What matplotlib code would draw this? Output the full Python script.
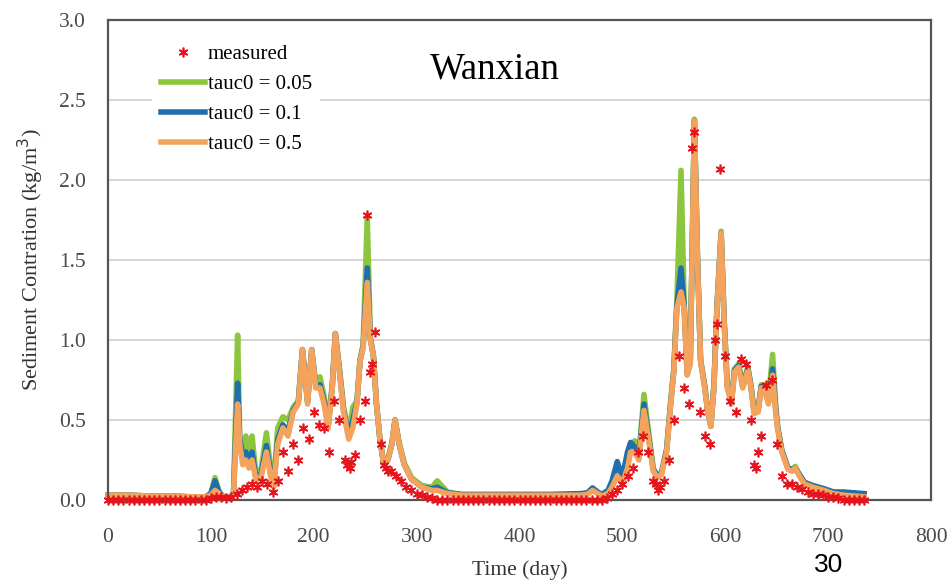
import numpy as np
import matplotlib
matplotlib.use("Agg")
import matplotlib.pyplot as plt
from matplotlib.ticker import FormatStrFormatter

plt.rcParams['font.family'] = ['Liberation Serif', 'DejaVu Serif']

# model output vertices (day, sediment concentration)
model_days = [0, 20, 40, 60, 80, 95, 100, 104, 108, 112,
              118, 122, 126, 128, 131, 134, 137, 140, 144, 149,
              154, 158, 161, 165, 170, 175, 180, 185, 189, 194,
              198, 202, 206, 210, 214, 218, 221, 225, 229, 234,
              238, 242, 245, 248, 252, 255, 258, 261, 264, 268,
              272, 276, 279, 283, 288, 295, 305, 315, 320, 330,
              345, 370, 400, 430, 460, 466, 471, 476, 480, 486,
              490, 495, 500, 505, 508, 512, 516, 521, 525, 530,
              534, 538, 543, 547, 550, 553, 557, 560, 563, 566,
              570, 573, 576, 580, 583, 586, 589, 592, 596, 599,
              602, 606, 609, 613, 617, 622, 625, 628, 632, 635,
              638, 642, 646, 649, 651, 655, 661, 665, 668, 672,
              677, 685, 696, 705, 715, 725, 735]

tauc_005 = [0.03, 0.03, 0.025, 0.025, 0.02, 0.02, 0.04, 0.14, 0.05, 0.02,
            0.01, 0.04, 1.03, 0.40, 0.28, 0.40, 0.30, 0.40, 0.15, 0.20,
            0.42, 0.20, 0.10, 0.45, 0.52, 0.50, 0.58, 0.62, 0.94, 0.62,
            0.94, 0.72, 0.77, 0.65, 0.48, 0.72, 1.04, 0.82, 0.58, 0.42,
            0.58, 0.62, 0.88, 0.97, 1.76, 1.02, 0.90, 0.60, 0.40, 0.23,
            0.26, 0.36, 0.50, 0.36, 0.23, 0.14, 0.09, 0.08, 0.12, 0.05,
            0.03, 0.03, 0.03, 0.03, 0.035, 0.04, 0.075, 0.045, 0.03, 0.05,
            0.10, 0.20, 0.12, 0.28, 0.33, 0.37, 0.28, 0.66, 0.45, 0.20,
            0.15, 0.17, 0.32, 0.62, 0.82, 1.25, 2.06, 1.25, 0.80, 0.87,
            2.38, 1.52, 0.88, 0.72, 0.56, 0.47, 0.72, 1.22, 1.68, 1.12,
            0.72, 0.62, 0.82, 0.85, 0.72, 0.83, 0.72, 0.56, 0.57, 0.72,
            0.72, 0.63, 0.91, 0.60, 0.46, 0.31, 0.20, 0.19, 0.21, 0.16,
            0.11, 0.09, 0.07, 0.05, 0.04, 0.03, 0.03]

tauc_01 = [0.03, 0.03, 0.025, 0.025, 0.02, 0.02, 0.04, 0.12, 0.05, 0.02,
           0.01, 0.04, 0.73, 0.38, 0.28, 0.30, 0.24, 0.30, 0.13, 0.17,
           0.34, 0.17, 0.09, 0.38, 0.47, 0.43, 0.56, 0.61, 0.94, 0.61,
           0.94, 0.71, 0.72, 0.62, 0.46, 0.71, 1.04, 0.81, 0.56, 0.40,
           0.50, 0.61, 0.87, 0.96, 1.45, 1.01, 0.90, 0.60, 0.40, 0.22,
           0.25, 0.35, 0.50, 0.35, 0.22, 0.13, 0.08, 0.07, 0.08, 0.045,
           0.035, 0.035, 0.035, 0.035, 0.04, 0.045, 0.075, 0.05, 0.035, 0.06,
           0.12, 0.24, 0.14, 0.30, 0.36, 0.33, 0.27, 0.60, 0.42, 0.19,
           0.15, 0.17, 0.31, 0.61, 0.81, 1.22, 1.45, 1.22, 0.79, 0.86,
           2.37, 1.51, 0.87, 0.71, 0.55, 0.46, 0.71, 1.21, 1.67, 1.11,
           0.71, 0.61, 0.81, 0.84, 0.71, 0.82, 0.71, 0.55, 0.56, 0.71,
           0.70, 0.61, 0.82, 0.57, 0.45, 0.31, 0.20, 0.19, 0.20, 0.16,
           0.11, 0.09, 0.07, 0.05, 0.05, 0.045, 0.04]

tauc_05 = [0.03, 0.03, 0.025, 0.025, 0.02, 0.02, 0.03, 0.06, 0.04, 0.02,
           0.01, 0.03, 0.60, 0.35, 0.22, 0.25, 0.20, 0.25, 0.12, 0.15,
           0.30, 0.15, 0.08, 0.35, 0.45, 0.40, 0.55, 0.60, 0.94, 0.60,
           0.94, 0.70, 0.70, 0.60, 0.45, 0.70, 1.04, 0.80, 0.55, 0.38,
           0.45, 0.60, 0.87, 0.95, 1.36, 1.00, 0.90, 0.60, 0.40, 0.22,
           0.25, 0.35, 0.50, 0.35, 0.22, 0.13, 0.08, 0.06, 0.06, 0.04,
           0.03, 0.03, 0.03, 0.03, 0.03, 0.035, 0.06, 0.04, 0.025, 0.04,
           0.08, 0.15, 0.10, 0.20, 0.30, 0.30, 0.25, 0.56, 0.40, 0.18,
           0.14, 0.16, 0.30, 0.60, 0.80, 1.20, 1.30, 1.20, 0.78, 0.85,
           2.37, 1.50, 0.87, 0.70, 0.55, 0.46, 0.70, 1.20, 1.67, 1.10,
           0.70, 0.60, 0.80, 0.83, 0.70, 0.81, 0.70, 0.54, 0.55, 0.70,
           0.69, 0.60, 0.78, 0.55, 0.44, 0.30, 0.19, 0.18, 0.20, 0.15,
           0.10, 0.08, 0.06, 0.04, 0.03, 0.025, 0.02]

# measured concentration, every 5 days from day 0 to 735
meas_days = list(range(0, 740, 5))
meas_vals = [0, 0, 0, 0, 0, 0, 0, 0, 0, 0,
             0, 0, 0, 0, 0, 0, 0, 0, 0, 0,
             0.01, 0.02, 0.02, 0.01, 0.02, 0.04, 0.06, 0.08, 0.10, 0.08,
             0.12, 0.10, 0.05, 0.12, 0.30, 0.18, 0.35, 0.25, 0.45, 0.38,
             0.55, 0.47, 0.45, 0.30, 0.62, 0.50, 0.25, 0.20, 0.28, 0.50,
             0.62, 0.80, 1.05, 0.35, 0.20, 0.18, 0.15, 0.12, 0.08, 0.06,
             0.04, 0.03, 0.02, 0.01, 0, 0, 0, 0, 0, 0,
             0, 0, 0, 0, 0, 0, 0, 0, 0, 0,
             0, 0, 0, 0, 0, 0, 0, 0, 0, 0,
             0, 0, 0, 0, 0, 0, 0, 0.01, 0.04, 0.06,
             0.10, 0.15, 0.20, 0.30, 0.40, 0.30, 0.12, 0.06, 0.12, 0.25,
             0.50, 0.90, 0.70, 0.60, 2.30, 0.55, 0.40, 0.35, 1.00, 2.07,
             0.90, 0.62, 0.55, 0.88, 0.85, 0.50, 0.20, 0.40, 0.72, 0.75,
             0.35, 0.15, 0.10, 0.10, 0.08, 0.07, 0.05, 0.04, 0.04, 0.03,
             0.02, 0.02, 0.01, 0, 0, 0, 0, 0]
# isolated readings between the 5-day samples
extra_days = [232, 236, 252, 257, 268, 272, 533, 537, 568, 592, 628, 632]
extra_vals = [0.22, 0.24, 1.78, 0.85, 0.22, 0.18, 0.10, 0.08, 2.20, 1.10, 0.22, 0.30]

fig = plt.figure(figsize=(9.49, 5.83), dpi=100)
ax = fig.add_axes([108 / 949, 1 - 500 / 583, 823 / 949, 480 / 583])

ax.plot(model_days, tauc_005, color='#8cc63e', lw=4, label='tauc0 = 0.05', clip_on=False)
ax.plot(model_days, tauc_01, color='#1f6fae', lw=4, label='tauc0 = 0.1', clip_on=False)
ax.plot(model_days, tauc_05, color='#f4a35c', lw=4, label='tauc0 = 0.5', clip_on=False)
ax.plot(meas_days, meas_vals, linestyle='none', marker=(6, 2, 0), ms=7, mew=1.2,
        color='#e3141c', label='measured', clip_on=False, zorder=3)
ax.plot(extra_days, extra_vals, linestyle='none', marker=(6, 2, 0), ms=7, mew=1.2,
        color='#e3141c', clip_on=False, zorder=3)

ax.set_xlim(0, 800)
ax.set_ylim(0, 3)
ax.set_xticks(range(0, 801, 100))
ax.set_yticks(np.arange(0, 3.01, 0.5))
ax.yaxis.set_major_formatter(FormatStrFormatter('%.1f'))
ax.tick_params(length=0, labelsize=15.5, labelcolor='#4a4a4a')
ax.tick_params(axis='x', pad=20)
ax.tick_params(axis='y', pad=16)
ax.yaxis.grid(True, color='#d4d4d4', lw=1.4)
ax.set_axisbelow(True)
for sp in ax.spines.values():
    sp.set_color('#555555')
    sp.set_linewidth(1.6)

ax.set_xlabel('Time (day)', fontsize=15.5, color='#333333', labelpad=10)
ax.set_ylabel('Sediment Contration (kg/m$^3$)', fontsize=16, color='#333333', labelpad=9)

h, l = ax.get_legend_handles_labels()
order = [3, 0, 1, 2]
leg = ax.legend([h[i] for i in order], [l[i] for i in order], loc='upper left',
                bbox_to_anchor=(34 / 823, 1 - 6 / 480), fontsize=15, frameon=True,
                handlelength=2.1, handletextpad=0.15, labelspacing=0.5,
                borderpad=0.4, fancybox=False)
leg.get_frame().set_facecolor('white')
leg.get_frame().set_edgecolor('none')
leg.get_frame().set_alpha(1)

ax.text(313, 2.69, 'Wanxian', fontsize=26.5, color='black', va='center', ha='left')
fig.text(829 / 949, 1 - 553 / 583, '30', fontsize=19, family='Liberation Sans',
         ha='center', va='top')

fig.savefig('out.png', dpi=100)
